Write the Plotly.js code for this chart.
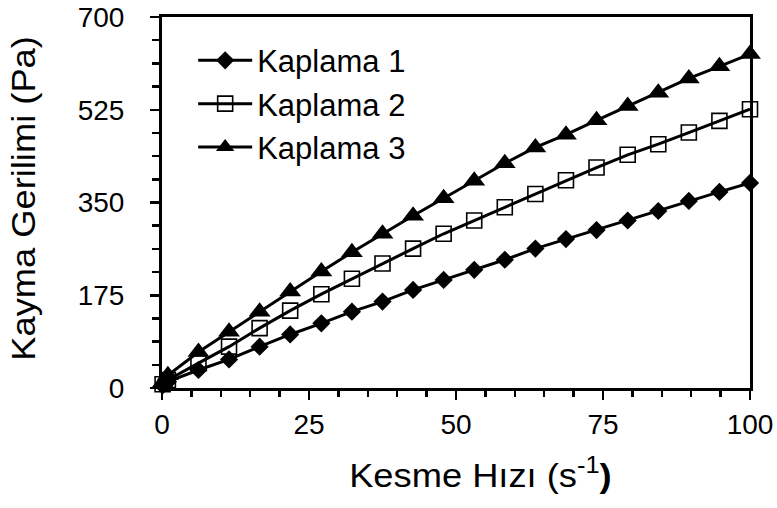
<!DOCTYPE html>
<html>
<head>
<meta charset="utf-8">
<script src="https://cdn.plot.ly/plotly-3.0.1.min.js"></script>
<style>html,body{margin:0;padding:0;background:#fff;}#chart{width:777px;height:508px;}</style>
</head>
<body>
<div id="chart"></div>
<script>
// Shear rate (s^-1)
const shearRate = [0.1, 1, 6.2, 11.4, 16.6, 21.8, 27.1, 32.3, 37.5, 42.7, 47.9, 53.1, 58.3, 63.5, 68.7, 73.9, 79.2, 84.4, 89.6, 94.8, 100];
// Shear stress (Pa)
const kaplama1 = [5, 12, 34, 54, 78, 101, 122, 144, 163, 185, 204, 223, 242, 263, 281, 298, 316, 334, 353, 370, 387];
const kaplama2 = [7, 15, 47, 78, 113, 146, 177, 206, 235, 263, 291, 316, 341, 366, 392, 416, 440, 460, 482, 504, 526];
const kaplama3 = [10, 24, 68, 106, 144, 182, 220, 256, 291, 325, 358, 391, 424, 454, 478, 505, 532, 557, 584, 607, 630];
const seriesNames = ["Kaplama 1", "Kaplama 2", "Kaplama 3"];
const xTickVals = [0, 25, 50, 75, 100];
const yTickVals = [0, 175, 350, 525, 700];
const xTitle = "Kesme Hızı (s<sup>-1</sup><b>)</b>";
const yTitle = "Kayma Gerilimi (Pa)";

const FONT = "Liberation Sans, Arial, sans-serif";
const symbols = ["diamond", "square-open", "triangle-up"];
const sizes = [14, 15, 19];
const ys = [kaplama1, kaplama2, kaplama3];

const traces = ys.map((y, i) => ({
  x: shearRate, y: y, name: seriesNames[i], type: "scatter", mode: "lines+markers",
  legendgroup: "g" + i,
  line: {color: "#000", width: 3},
  marker: {symbol: symbols[i], size: sizes[i], color: "#000", line: {color: "#000", width: i === 1 ? 1.6 : 0}},
  cliponaxis: false
}));

const layout = {
  width: 777, height: 508,
  margin: {l: 162, r: 27, t: 17, b: 120},
  paper_bgcolor: "#fff", plot_bgcolor: "#fff",
  font: {family: FONT, size: 28, color: "#000"},
  showlegend: true,
  legend: {x: 0.053, y: 0.955, xanchor: "left", yanchor: "top", bgcolor: "rgba(0,0,0,0)",
    font: {family: FONT, size: 31, color: "#000"}, tracegroupgap: 0, itemwidth: 54},
  xaxis: {range: [0, 100], tickvals: xTickVals, ticktext: xTickVals.map(String),
    showgrid: false, zeroline: false, showline: true, linecolor: "#000", linewidth: 3, mirror: true,
    ticks: "outside", ticklen: 9, tickwidth: 2.5, tickcolor: "#000",
    minor: {dtick: 5, ticks: "outside", ticklen: 6, tickwidth: 2.5, tickcolor: "#000", showgrid: false},
    tickfont: {family: FONT, size: 28, color: "#000"}, ticklabelstandoff: 0},
  yaxis: {range: [0, 700], tickvals: yTickVals, ticktext: yTickVals.map(String),
    showgrid: false, zeroline: false, showline: true, linecolor: "#000", linewidth: 3, mirror: true,
    ticks: "outside", ticklen: 9, tickwidth: 2.5, tickcolor: "#000",
    minor: {dtick: 43.75, ticks: "outside", ticklen: 7, tickwidth: 2.5, tickcolor: "#000", showgrid: false},
    tickfont: {family: FONT, size: 28, color: "#000"}, ticklabelstandoff: 20},
  annotations: [
    {text: xTitle, xref: "paper", yref: "paper", x: 0.541, y: -0.228, xanchor: "center", yanchor: "middle",
     showarrow: false, font: {family: FONT, size: 33, color: "#000"}},
    {text: yTitle, xref: "paper", yref: "paper", x: -0.2364, y: 0.512, xanchor: "center", yanchor: "middle",
     textangle: -90, showarrow: false, font: {family: FONT, size: 33, color: "#000"}}
  ]
};

function stretch(sel, s) {
  document.querySelectorAll(sel).forEach(t => {
    if (t.getAttribute("data-st")) return;
    t.setAttribute("data-st", "1");
    const bb = t.getBBox();
    const anchor = t.getAttribute("text-anchor") || "start";
    const ax = anchor === "end" ? bb.x + bb.width : (anchor === "middle" ? bb.x + bb.width / 2 : bb.x);
    const tr = t.getAttribute("transform") || "";
    t.setAttribute("transform", tr + " translate(" + ax + ",0) scale(" + s + ",1) translate(" + (-ax) + ",0)");
  });
}

Plotly.newPlot("chart", traces, layout, {staticPlot: true}).then(() => {
  stretch(".annotation-text", 1.1);
});
</script>
</body>
</html>
